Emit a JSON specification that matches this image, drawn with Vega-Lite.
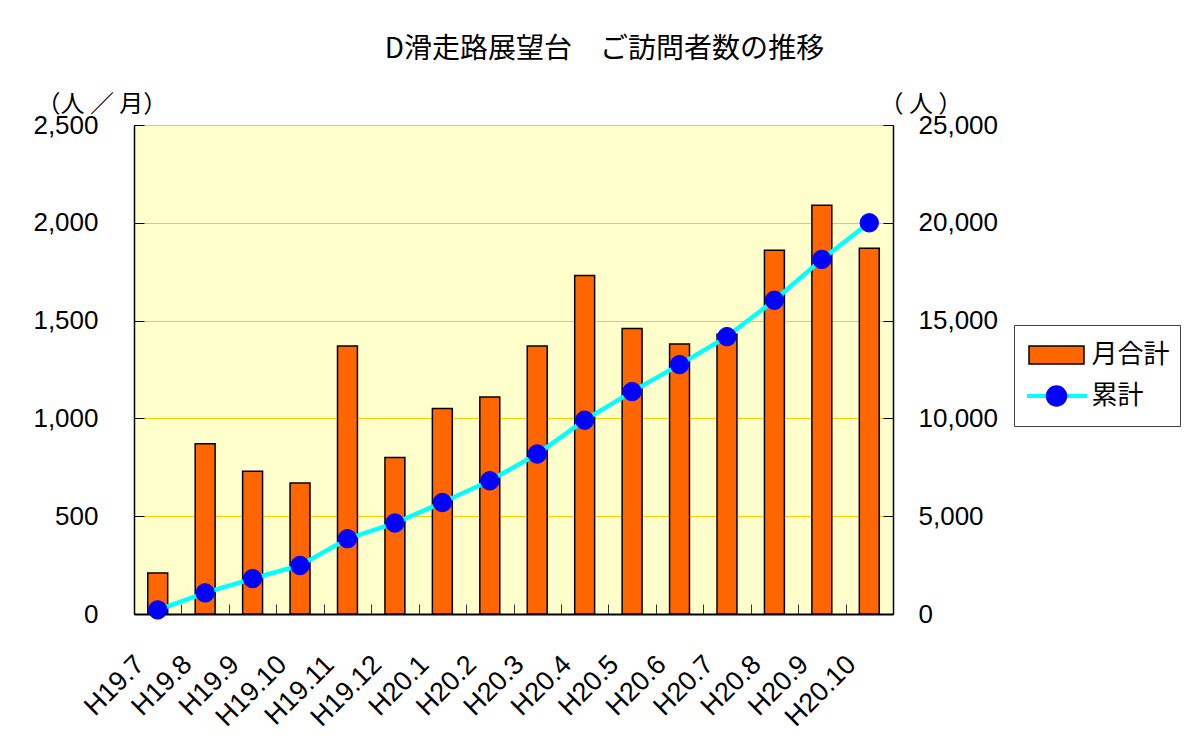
{
  "$schema": "https://vega.github.io/schema/vega-lite/v6.json",
  "width": 759,
  "height": 489,
  "autosize": {"type": "none"},
  "padding": {"left": 134, "top": 125, "right": 291, "bottom": 130},
  "background": "white",
  "title": {
    "text": "D滑走路展望台　ご訪問者数の推移",
    "font": "Noto Sans CJK JP",
    "fontSize": 28,
    "fontWeight": "normal",
    "color": "black",
    "anchor": "middle",
    "frame": "group",
    "dx": 91,
    "offset": 0,
    "baseline": "bottom"
  },
  "data": {
    "values": [
      {"month": "H19.7", "monthly": 210, "cum": 210},
      {"month": "H19.8", "monthly": 870, "cum": 1080},
      {"month": "H19.9", "monthly": 730, "cum": 1810},
      {"month": "H19.10", "monthly": 670, "cum": 2480},
      {"month": "H19.11", "monthly": 1370, "cum": 3850},
      {"month": "H19.12", "monthly": 800, "cum": 4650},
      {"month": "H20.1", "monthly": 1050, "cum": 5700},
      {"month": "H20.2", "monthly": 1110, "cum": 6810},
      {"month": "H20.3", "monthly": 1370, "cum": 8180},
      {"month": "H20.4", "monthly": 1730, "cum": 9910},
      {"month": "H20.5", "monthly": 1460, "cum": 11370},
      {"month": "H20.6", "monthly": 1380, "cum": 12750},
      {"month": "H20.7", "monthly": 1430, "cum": 14180},
      {"month": "H20.8", "monthly": 1860, "cum": 16040},
      {"month": "H20.9", "monthly": 2090, "cum": 18130},
      {"month": "H20.10", "monthly": 1870, "cum": 20000}
    ]
  },
  "encoding": {
    "x": {
      "field": "month",
      "type": "nominal",
      "sort": null,
      "scale": {"paddingInner": 0, "paddingOuter": 0},
      "axis": {
        "title": null,
        "labelAngle": -45,
        "labelAlign": "right",
        "labelBaseline": "middle",
        "labelFont": "Liberation Sans",
        "labelFontSize": 27,
        "labelColor": "black",
        "labelPadding": 56,
        "labelOffset": -18,
        "labelOverlap": false,
        "labelBound": false,
        "tickBand": "extent",
        "tickSize": -10,
        "tickColor": "#333333",
        "domainColor": "#000000",
        "domainWidth": 2,
        "grid": false
      }
    }
  },
  "layer": [
    {
      "mark": {"type": "bar", "fill": "#FF6600", "stroke": "#000000", "strokeWidth": 1.5, "width": {"band": 0.42}},
      "encoding": {
        "y": {
          "field": "monthly",
          "type": "quantitative",
          "scale": {"domain": [0, 2500], "nice": false},
          "axis": {
            "title": "（人 ／ 月）",
            "titleAngle": 0,
            "titleAlign": "left",
            "titleBaseline": "bottom",
            "titleX": -98,
            "titleY": -9,
            "titleFont": "Noto Sans CJK JP",
            "titleFontSize": 24,
            "titleFontWeight": "normal",
            "titleColor": "black",
            "values": [0, 500, 1000, 1500, 2000, 2500],
            "format": ",.0f",
            "labelFont": "Liberation Sans",
            "labelFontSize": 26,
            "labelColor": "black",
            "labelPadding": 46,
            "labelOverlap": false,
            "tickSize": -10,
            "tickColor": "#000000",
            "domainColor": "#000000",
            "domainWidth": 1.5,
            "grid": true,
            "gridColor": "#FFCC00",
            "gridWidth": 1
          }
        }
      }
    },
    {
      "mark": {"type": "line", "strokeWidth": 4.5},
      "encoding": {
        "y": {
          "field": "cum",
          "type": "quantitative",
          "scale": {"domain": [0, 25000], "nice": false},
          "axis": {
            "orient": "right",
            "title": "（ 人 ）",
            "titleAngle": 0,
            "titleAlign": "left",
            "titleBaseline": "bottom",
            "titleX": -14,
            "titleY": -9,
            "titleFont": "Noto Sans CJK JP",
            "titleFontSize": 24,
            "titleFontWeight": "normal",
            "titleColor": "black",
            "values": [0, 5000, 10000, 15000, 20000, 25000],
            "format": ",.0f",
            "labelFont": "Liberation Sans",
            "labelFontSize": 26,
            "labelColor": "black",
            "labelPadding": 35,
            "labelOverlap": false,
            "tickSize": -10,
            "tickColor": "#000000",
            "domainColor": "#000000",
            "domainWidth": 1.5,
            "grid": false
          }
        },
        "color": {
          "datum": "累計",
          "scale": {"domain": [" ", "累計"], "range": ["rgba(0,0,0,0)", "#00FFFF"]},
          "legend": {
            "orient": "none",
            "legendX": 880,
            "legendY": 200,
            "title": null,
            "padding": 10,
            "labelFont": "Noto Sans CJK JP",
            "labelFontSize": 26,
            "labelExpr": "''",
            "labelColor": "rgba(0,0,0,0)",
            "symbolType": "stroke",
            "symbolSize": 3600,
            "symbolStrokeWidth": 4,
            "symbolOffset": 1,
            "labelOffset": 22,
            "clipHeight": 40,
            "rowPadding": 1,
            "zindex": 1
          }
        }
      }
    },
    {
      "mark": {"type": "point", "filled": true, "size": 340, "opacity": 1, "strokeWidth": 1},
      "encoding": {
        "y": {"field": "cum", "type": "quantitative", "scale": {"domain": [0, 25000], "nice": false}, "axis": null},
        "fill": {
          "datum": "累計",
          "scale": {"domain": ["月合計", "累計"], "range": ["#FF6600", "#0000FF"]},
          "legend": {
            "orient": "none",
            "legendX": 880,
            "legendY": 200,
            "title": null,
            "padding": 10,
            "strokeColor": "#444444",
            "labelFont": "Noto Sans CJK JP",
            "labelFontSize": 26,
            "labelColor": "black",
            "symbolSize": 400,
            "symbolStrokeWidth": 1.5,
            "symbolOpacity": 1,
            "symbolOffset": 19.5,
            "labelOffset": 22,
            "clipHeight": 40,
            "rowPadding": 1,
            "zindex": 2
          }
        },
        "shape": {
          "datum": "累計",
          "scale": {"domain": ["月合計", "累計"], "range": ["M-2.75,-0.9H2.75V0.9H-2.75Z", "circle"]}
        },
        "stroke": {
          "datum": "累計",
          "scale": {"domain": ["月合計", "累計"], "range": ["#000000", "#0000FF"]}
        }
      }
    }
  ],
  "resolve": {"scale": {"y": "independent"}},
  "config": {
    "view": {"fill": "#FFFFCC", "stroke": "#808080", "strokeWidth": 1}
  }
}
